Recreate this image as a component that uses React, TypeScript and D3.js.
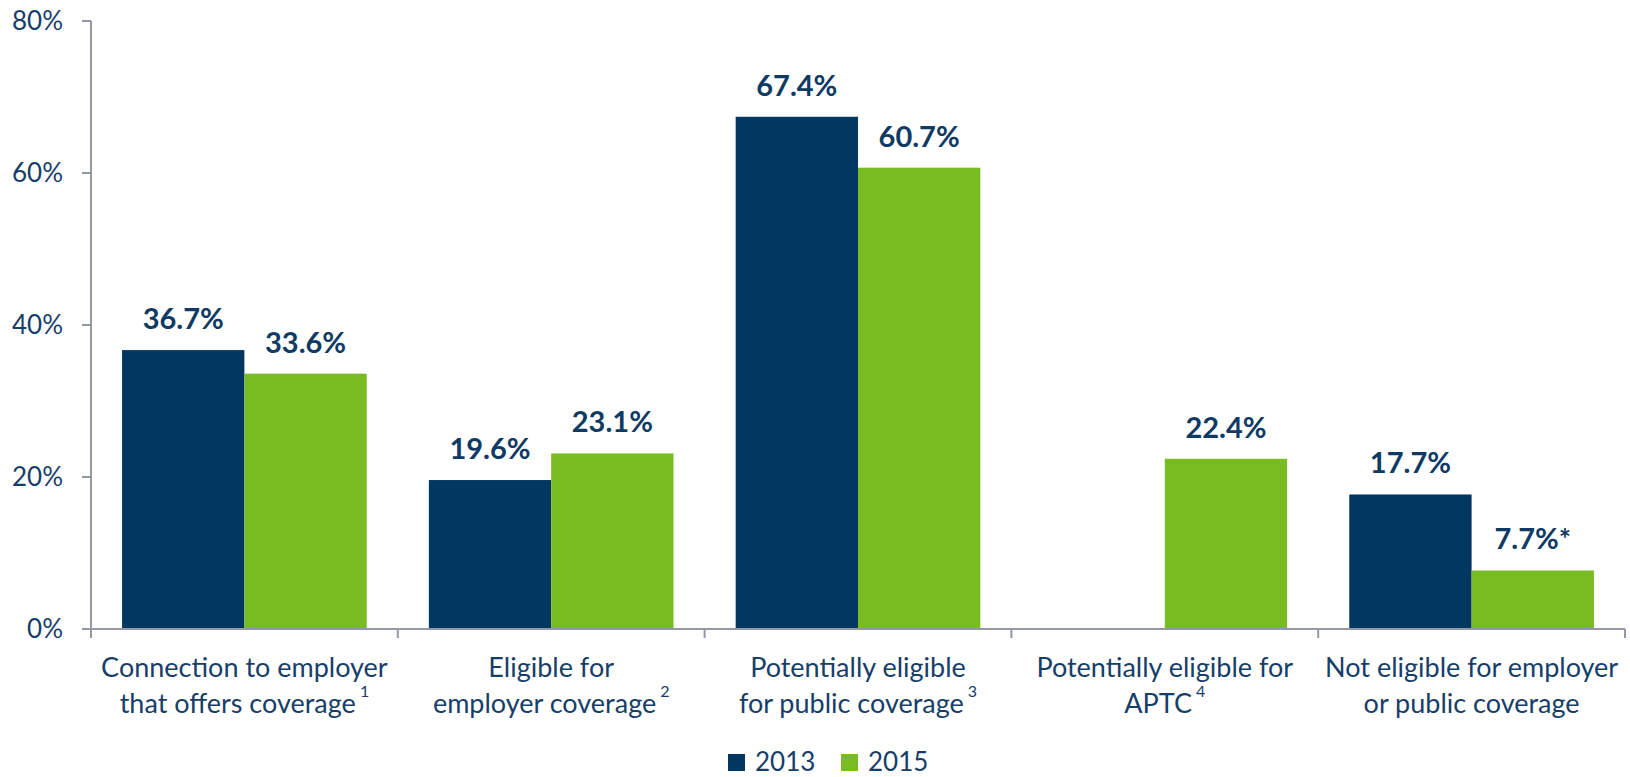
import React from "react";
import * as d3 from "d3";

const categories = [
  "Connection to employer that offers coverage",
  "Eligible for employer coverage",
  "Potentially eligible for public coverage",
  "Potentially eligible for APTC",
  "Not eligible for employer or public coverage",
];
const categoryLines: string[][] = [
  ["Connection to employer", "that offers coverage"],
  ["Eligible for", "employer coverage"],
  ["Potentially eligible", "for public coverage"],
  ["Potentially eligible for", "APTC"],
  ["Not eligible for employer", "or public coverage"],
];
const footnotes = ["1", "2", "3", "4", ""];
const seriesNames = ["2013", "2015"];
const values2013: (number | null)[] = [36.7, 19.6, 67.4, null, 17.7];
const values2015: (number | null)[] = [33.6, 23.1, 60.7, 22.4, 7.7];
const labels2015Suffix = ["", "", "", "", "*"];
const yTicks = [0, 20, 40, 60, 80];

const W = 1630;
const H = 777;
const margin = { left: 91, right: 5, top: 21, bottom: 148 };
const colors = ["#023761", "#78BC21"];
const textColor = "#173E69";
const axisColor = "#9298A4";
const font = "Lato, 'Open Sans', sans-serif";

export default function App() {
  const x = d3
    .scaleBand<string>()
    .domain(categories)
    .range([margin.left, W - margin.right])
    .paddingInner(0)
    .paddingOuter(0);
  const xs = d3
    .scaleBand<string>()
    .domain(seriesNames)
    .range([0, x.bandwidth()])
    .paddingInner(0)
    .paddingOuter(0.254);
  const y = d3.scaleLinear().domain([0, 80]).range([H - margin.bottom, margin.top]);
  const series = [values2013, values2015];
  const y0 = y(0);

  const boundaries = categories.map((c) => x(c)!).concat([x(categories[categories.length - 1])! + x.bandwidth()]);

  return (
    <svg
      width={W}
      height={H}
      style={{ position: "absolute", left: 0, top: 0, background: "#fff" }}
      fontFamily={font}
    >
      {/* bars */}
      {series.map((vals, si) =>
        vals.map((v, ci) =>
          v == null ? null : (
            <rect
              key={`b${si}-${ci}`}
              x={x(categories[ci])! + xs(seriesNames[si])!}
              y={y(v)}
              width={xs.bandwidth()}
              height={y0 - y(v)}
              fill={colors[si]}
            />
          )
        )
      )}
      {/* value labels */}
      {series.map((vals, si) =>
        vals.map((v, ci) =>
          v == null ? null : (
            <text
              key={`l${si}-${ci}`}
              x={x(categories[ci])! + xs(seriesNames[si])! + xs.bandwidth() / 2}
              y={y(v) - 21}
              textAnchor="middle"
              fontWeight="bold"
              fontSize={29}
              fill="#0E3A64"
            >
              {v.toFixed(1) + "%" + (si === 1 ? labels2015Suffix[ci] : "")}
            </text>
          )
        )
      )}
      {/* y axis */}
      <line x1={margin.left} x2={margin.left} y1={y(80)} y2={y0} stroke={axisColor} strokeWidth={2} />
      {yTicks.map((t) => (
        <g key={`yt${t}`}>
          <line x1={margin.left - 9} x2={margin.left} y1={y(t)} y2={y(t)} stroke={axisColor} strokeWidth={2} />
          <text x={63} y={y(t)} dy="0.36em" textAnchor="end" fontSize={26} fill={textColor}>
            {t + "%"}
          </text>
        </g>
      ))}
      {/* x axis */}
      <line x1={margin.left} x2={W - margin.right} y1={y0} y2={y0} stroke={axisColor} strokeWidth={2} />
      {boundaries.map((b, i) => (
        <line key={`xt${i}`} x1={b} x2={b} y1={y0} y2={y0 + 9} stroke={axisColor} strokeWidth={2} />
      ))}
      {categoryLines.map((lines, ci) => {
        const cx = x(categories[ci])! + x.bandwidth() / 2;
        return (
          <g key={`cl${ci}`}>
            <text x={cx} y={677} textAnchor="middle" fontSize={27} fill={textColor}>
              {lines[0]}
            </text>
            <text x={cx} y={713} textAnchor="middle" fontSize={27} fill={textColor}>
              {lines[1]}
              {footnotes[ci] ? (
                <tspan dx={4} dy={-16} fontSize={16}>
                  {footnotes[ci]}
                </tspan>
              ) : null}
            </text>
          </g>
        );
      })}
      {/* legend */}
      {seriesNames.map((s, i) => {
        const lx = 728 + i * 113;
        return (
          <g key={`lg${s}`}>
            <rect x={lx} y={754} width={17} height={17} fill={colors[i]} />
            <text x={lx + 27} y={771} fontSize={26} fill={textColor}>
              {s}
            </text>
          </g>
        );
      })}
    </svg>
  );
}
